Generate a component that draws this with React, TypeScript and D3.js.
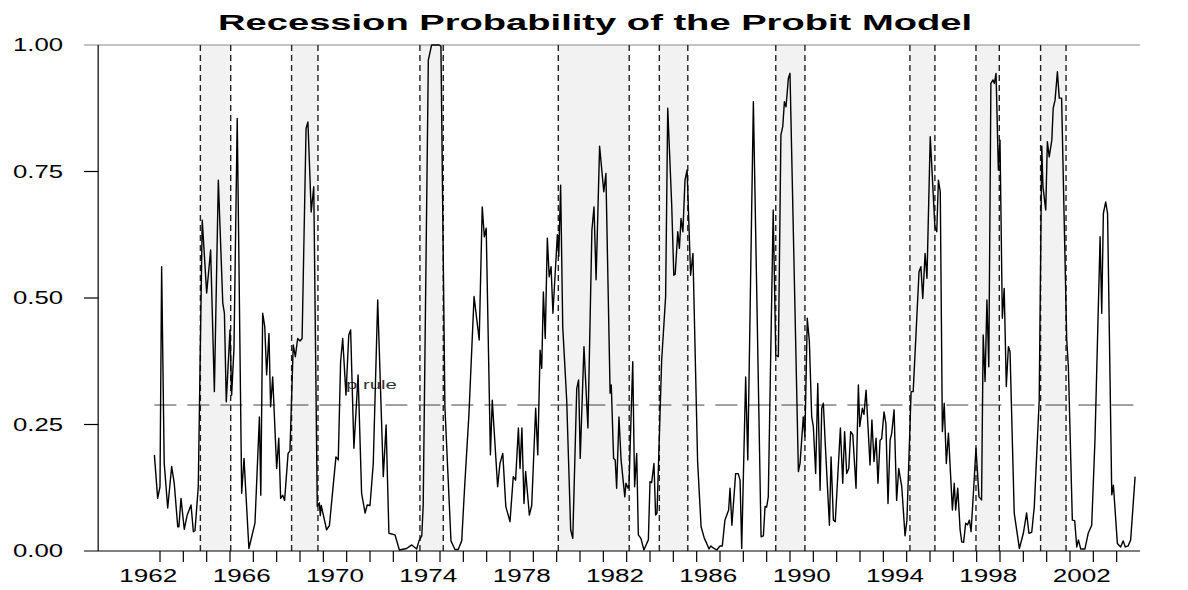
import React from "react";
import * as d3 from "d3";

const width = 1188;
const height = 590;

// y axis ticks and x axis labels (labels sit in the middle of their year)
const yTicks = [0, 0.25, 0.5, 0.75, 1];
const yearLabels = [1962, 1966, 1970, 1974, 1978, 1982, 1986, 1990, 1994, 1998, 2002];
const yearTicks = d3.range(1963, 2005);

// recession periods (shaded)
const recessionStart = [1964.73, 1968.64, 1974.14, 1980.07, 1984.4, 1989.39, 1995.14, 1997.97, 2000.74];
const recessionEnd = [1966.03, 1969.77, 1975.14, 1983.11, 1985.62, 1990.64, 1996.21, 1998.97, 2001.83];

// probit recession probability
const probDates = [
  1962.76, 1962.9, 1963.0, 1963.07, 1963.18, 1963.33, 1963.5, 1963.61, 1963.76, 1963.81,
  1963.9, 1964.04, 1964.16, 1964.33, 1964.43, 1964.5, 1964.64, 1964.81, 1965.0, 1965.17,
  1965.33, 1965.5, 1965.69, 1965.76, 1965.84, 1966.0, 1966.07, 1966.17, 1966.31, 1966.5,
  1966.6, 1966.81, 1967.07, 1967.26, 1967.32, 1967.4, 1967.49, 1967.57, 1967.67, 1967.74,
  1967.83, 1968.0, 1968.09, 1968.17, 1968.26, 1968.34, 1968.49, 1968.57, 1968.71, 1968.8,
  1968.9, 1969.0, 1969.09, 1969.26, 1969.34, 1969.48, 1969.59, 1969.74, 1969.83, 1969.87,
  1969.91, 1970.14, 1970.26, 1970.54, 1970.64, 1970.74, 1970.83, 1970.97, 1971.09, 1971.17,
  1971.31, 1971.49, 1971.64, 1971.79, 1971.88, 1972.0, 1972.14, 1972.33, 1972.57, 1972.69,
  1972.81, 1973.07, 1973.26, 1973.57, 1973.79, 1974.0, 1974.1, 1974.22, 1974.28, 1974.5,
  1974.64, 1974.96, 1975.04, 1975.21, 1975.47, 1975.64, 1975.78, 1975.93, 1976.06, 1976.24,
  1976.46, 1976.68, 1976.81, 1976.9, 1976.98, 1977.16, 1977.24, 1977.47, 1977.57, 1977.69,
  1977.82, 1978.0, 1978.14, 1978.24, 1978.36, 1978.43, 1978.51, 1978.6, 1978.67, 1978.83,
  1978.93, 1979.1, 1979.19, 1979.29, 1979.36, 1979.43, 1979.51, 1979.6, 1979.68, 1979.76,
  1979.84, 1980.03, 1980.09, 1980.17, 1980.26, 1980.43, 1980.6, 1980.69, 1980.86, 1980.94,
  1981.01, 1981.17, 1981.34, 1981.51, 1981.6, 1981.69, 1981.84, 1982.02, 1982.11, 1982.29,
  1982.34, 1982.44, 1982.51, 1982.57, 1982.67, 1982.76, 1982.92, 1982.97, 1983.06, 1983.1,
  1983.26, 1983.34, 1983.43, 1983.5, 1983.61, 1983.74, 1983.86, 1983.93, 1984.0, 1984.07,
  1984.17, 1984.24, 1984.3, 1984.5, 1984.67, 1984.76, 1984.93, 1985.02, 1985.08, 1985.19,
  1985.26, 1985.33, 1985.41, 1985.5, 1985.59, 1985.74, 1985.84, 1986.04, 1986.19, 1986.33,
  1986.43, 1986.53, 1986.61, 1986.71, 1986.86, 1987.0, 1987.1, 1987.21, 1987.37, 1987.43,
  1987.51, 1987.67, 1987.78, 1987.86, 1987.93, 1988.1, 1988.19, 1988.43, 1988.76, 1988.86,
  1988.93, 1989.0, 1989.07, 1989.28, 1989.39, 1989.5, 1989.61, 1989.69, 1989.76, 1989.83,
  1989.93, 1990.0, 1990.36, 1990.43, 1990.57, 1990.64, 1990.74, 1990.83, 1990.93, 1991.0,
  1991.1, 1991.19, 1991.29, 1991.36, 1991.43, 1991.51, 1991.69, 1991.76, 1991.86, 1991.94,
  1992.16, 1992.26, 1992.34, 1992.43, 1992.52, 1992.6, 1992.69, 1992.83, 1992.93, 1992.99,
  1993.1, 1993.17, 1993.26, 1993.43, 1993.51, 1993.6, 1993.69, 1993.77, 1993.86, 1993.93,
  1994.03, 1994.11, 1994.2, 1994.29, 1994.36, 1994.46, 1994.57, 1994.66, 1994.79, 1994.93,
  1995.01, 1995.19, 1995.28, 1995.53, 1995.61, 1995.69, 1995.79, 1995.87, 1996.01, 1996.21,
  1996.29, 1996.36, 1996.44, 1996.53, 1996.61, 1996.7, 1996.79, 1996.96, 1997.04, 1997.1,
  1997.19, 1997.29, 1997.36, 1997.44, 1997.53, 1997.61, 1997.69, 1997.76, 1997.86, 1997.97,
  1998.1, 1998.21, 1998.28, 1998.36, 1998.44, 1998.52, 1998.61, 1998.7, 1998.76, 1998.83,
  1998.93, 1999.0, 1999.1, 1999.18, 1999.27, 1999.36, 1999.43, 1999.61, 1999.83, 2000.0,
  2000.14, 2000.24, 2000.36, 2000.47, 2000.68, 2000.79, 2000.84, 2000.96, 2001.03, 2001.11,
  2001.22, 2001.28, 2001.36, 2001.46, 2001.54, 2001.64, 2001.86, 2001.93, 2002.1, 2002.2,
  2002.29, 2002.36, 2002.46, 2002.64, 2002.78, 2002.93, 2003.07, 2003.29, 2003.36, 2003.43,
  2003.53, 2003.61, 2003.79, 2003.86, 2004.03, 2004.17, 2004.28, 2004.37, 2004.49, 2004.6,
  2004.79,
];
const probValues = [
  0.19, 0.104, 0.127, 0.562, 0.174, 0.085, 0.167, 0.134, 0.048, 0.048,
  0.104, 0.043, 0.07, 0.091, 0.038, 0.04, 0.127, 0.654, 0.51, 0.595,
  0.315, 0.733, 0.49, 0.47, 0.295, 0.437, 0.308, 0.4, 0.855, 0.114,
  0.183, 0.005, 0.055, 0.265, 0.11, 0.47, 0.443, 0.348, 0.43, 0.285,
  0.344, 0.163, 0.223, 0.104, 0.11, 0.1, 0.193, 0.198, 0.407, 0.384,
  0.42, 0.415, 0.42, 0.835, 0.848, 0.67, 0.72, 0.088, 0.095, 0.07,
  0.09, 0.042, 0.05, 0.186, 0.18, 0.374, 0.42, 0.308, 0.427, 0.437,
  0.203, 0.348, 0.114, 0.075, 0.091, 0.09, 0.173, 0.496, 0.147, 0.249,
  0.035, 0.032, 0.002, 0.005, 0.012, 0.004, 0.02, 0.03, 0.09, 0.97,
  1.0, 1.0, 0.998, 0.285, 0.02, 0.003, 0.003, 0.02, 0.13, 0.27,
  0.503, 0.417, 0.68, 0.621, 0.638, 0.19, 0.298, 0.127, 0.173, 0.193,
  0.088, 0.058, 0.147, 0.14, 0.243, 0.163, 0.243, 0.094, 0.157, 0.071,
  0.09, 0.282, 0.19, 0.397, 0.361, 0.512, 0.42, 0.618, 0.542, 0.562,
  0.47, 0.625, 0.582, 0.723, 0.443, 0.298, 0.042, 0.025, 0.321, 0.338,
  0.183, 0.404, 0.243, 0.634, 0.68, 0.536, 0.8, 0.71, 0.746, 0.312,
  0.328, 0.183, 0.18, 0.124, 0.265, 0.18, 0.107, 0.134, 0.124, 0.13,
  0.374, 0.127, 0.193, 0.032, 0.025, 0.002, 0.015, 0.022, 0.137, 0.135,
  0.173, 0.071, 0.075, 0.377, 0.503, 0.875, 0.684, 0.545, 0.547, 0.631,
  0.598, 0.657, 0.631, 0.733, 0.753, 0.545, 0.588, 0.177, 0.048, 0.025,
  0.015, 0.004, 0.01, 0.006, 0.002, 0.01, 0.01, 0.061, 0.081, 0.124,
  0.051, 0.153, 0.153, 0.14, 0.005, 0.344, 0.18, 0.888, 0.028, 0.03,
  0.088, 0.087, 0.107, 0.674, 0.387, 0.384, 0.822, 0.839, 0.888, 0.878,
  0.934, 0.944, 0.157, 0.173, 0.265, 0.226, 0.46, 0.414, 0.265, 0.246,
  0.153, 0.331, 0.12, 0.282, 0.292, 0.213, 0.051, 0.186, 0.061, 0.058,
  0.243, 0.134, 0.236, 0.153, 0.163, 0.236, 0.23, 0.124, 0.328, 0.246,
  0.282, 0.27, 0.318, 0.17, 0.259, 0.177, 0.223, 0.134, 0.219, 0.222,
  0.275, 0.252, 0.094, 0.219, 0.233, 0.279, 0.1, 0.163, 0.127, 0.03,
  0.06, 0.315, 0.315, 0.552, 0.562, 0.499, 0.588, 0.539, 0.819, 0.641,
  0.631, 0.733, 0.71, 0.236, 0.292, 0.173, 0.233, 0.081, 0.134, 0.081,
  0.124, 0.042, 0.018, 0.017, 0.055, 0.052, 0.061, 0.038, 0.114, 0.203,
  0.107, 0.101, 0.427, 0.335, 0.496, 0.364, 0.924, 0.931, 0.924, 0.944,
  0.753, 0.812, 0.46, 0.519, 0.325, 0.404, 0.394, 0.075, 0.005, 0.035,
  0.075, 0.035, 0.037, 0.088, 0.298, 0.8, 0.72, 0.674, 0.809, 0.779,
  0.812, 0.875, 0.891, 0.947, 0.895, 0.895, 0.417, 0.364, 0.061, 0.06,
  0.008, 0.022, 0.004, 0.004, 0.035, 0.051, 0.219, 0.621, 0.47, 0.667,
  0.69, 0.667, 0.111, 0.13, 0.015, 0.008, 0.02, 0.008, 0.01, 0.022,
  0.147,
];

const pRule = 0.2885;
const pRuleLabelDate = 1970.97;

const font = "'Liberation Sans', Arial, Helvetica, sans-serif";

const App: React.FC = () => {
  const x = d3.scaleLinear().domain([1960, 2005]).range([90, 1140]);
  const y = d3.scaleLinear().domain([0, 1]).range([551, 45]);

  const axisX = x(1960.35);
  const leftEdge = 84;
  const rightEdge = x(2005);

  const points: [number, number][] = probDates.map((d, i) => [d, probValues[i]]);
  const line = d3
    .line<[number, number]>()
    .x((d) => x(d[0]))
    .y((d) => y(d[1]));

  const firstDate = probDates[0];
  const lastDate = probDates[probDates.length - 1];

  return (
    <svg
      width={width}
      height={height}
      style={{ position: "absolute", left: 0, top: 0, background: "white" }}
      fontFamily={font}
    >
      <rect width={width} height={height} fill="white" />

      {/* shaded recessions */}
      {recessionStart.map((s, i) => (
        <rect
          key={"band" + i}
          x={x(s)}
          y={y(1)}
          width={x(recessionEnd[i]) - x(s)}
          height={y(0) - y(1)}
          fill="#f2f2f2"
        />
      ))}

      {/* top line at 1.00 */}
      <line x1={leftEdge} x2={rightEdge} y1={y(1)} y2={y(1)} stroke="#8a8a8a" strokeWidth={1.2} />

      {/* recession borders */}
      {recessionStart.concat(recessionEnd).map((d, i) => (
        <line
          key={"edge" + i}
          x1={x(d)}
          x2={x(d)}
          y1={y(1)}
          y2={y(0)}
          stroke="#222"
          strokeWidth={1.4}
          strokeDasharray="6,4"
        />
      ))}

      {/* p rule */}
      <line
        x1={x(firstDate)}
        x2={x(lastDate)}
        y1={y(pRule)}
        y2={y(pRule)}
        stroke="#444"
        strokeWidth={1}
        strokeDasharray="22,11"
      />
      <text
        x={x(pRuleLabelDate)}
        y={y(pRule) - 16}
        fontSize={12}
        fill="#333"
        textLength={51}
        lengthAdjust="spacingAndGlyphs"
      >
        p rule
      </text>

      {/* probability series */}
      <path d={line(points) ?? ""} fill="none" stroke="#000" strokeWidth={1.4} strokeLinejoin="round" />

      {/* y axis */}
      <line x1={axisX} x2={axisX} y1={y(1)} y2={y(0)} stroke="#000" strokeWidth={1.2} />
      {yTicks.map((t) => (
        <g key={"yt" + t}>
          {t > 0 && t < 1 && (
            <line x1={leftEdge} x2={axisX} y1={y(t)} y2={y(t)} stroke="#000" strokeWidth={1.2} />
          )}
          <text
            x={63}
            y={y(t)}
            dy="0.36em"
            fontSize={18}
            textAnchor="end"
            fill="#000"
            textLength={50}
            lengthAdjust="spacingAndGlyphs"
          >
            {d3.format(".2f")(t)}
          </text>
        </g>
      ))}

      {/* x axis */}
      <line x1={leftEdge} x2={rightEdge} y1={y(0)} y2={y(0)} stroke="#000" strokeWidth={1.2} />
      {yearTicks.map((yr) => (
        <line key={"xt" + yr} x1={x(yr)} x2={x(yr)} y1={y(0)} y2={y(0) + 11} stroke="#000" strokeWidth={1.2} />
      ))}
      {yearLabels.map((yr) => (
        <text
          key={"xl" + yr}
          x={x(yr + 0.5)}
          y={582}
          fontSize={17.5}
          textAnchor="middle"
          fill="#000"
          textLength={58}
          lengthAdjust="spacingAndGlyphs"
        >
          {yr}
        </text>
      ))}

      {/* title */}
      <text
        x={595}
        y={30}
        fontSize={22}
        fontWeight="bold"
        textAnchor="middle"
        fill="#000"
        textLength={754}
        lengthAdjust="spacingAndGlyphs"
      >
        Recession Probability of the Probit Model
      </text>
    </svg>
  );
};

export default App;
